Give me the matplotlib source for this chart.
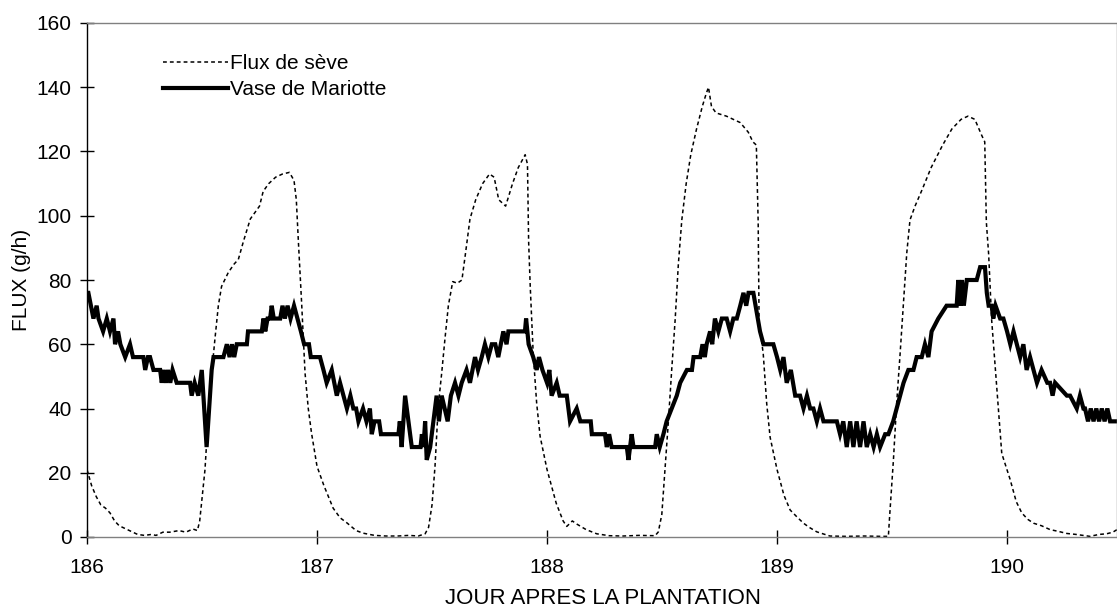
import matplotlib
matplotlib.use("Agg")
import matplotlib.pyplot as plt

# Flux de seve (thin dashed line): day, flux in g/h
sap_day = [186.000, 186.020, 186.040, 186.060, 186.080, 186.100, 186.120, 186.140, 186.170,
           186.200, 186.220, 186.250, 186.280, 186.300, 186.330, 186.360, 186.400, 186.430,
           186.460, 186.480, 186.490, 186.500, 186.513, 186.527, 186.542, 186.556, 186.571,
           186.585, 186.614, 186.640, 186.658, 186.680, 186.710, 186.730, 186.750, 186.766,
           186.790, 186.820, 186.850, 186.880, 186.900, 186.910, 186.919, 186.933, 186.948,
           186.962, 186.976, 187.000, 187.030, 187.070, 187.100, 187.130, 187.170, 187.200,
           187.250, 187.300, 187.350, 187.400, 187.440, 187.470, 187.485, 187.500, 187.513,
           187.527, 187.542, 187.556, 187.571, 187.590, 187.610, 187.630, 187.645, 187.665,
           187.690, 187.720, 187.750, 187.770, 187.790, 187.820, 187.850, 187.875, 187.890,
           187.905, 187.915, 187.920, 187.927, 187.940, 187.955, 187.970, 188.000, 188.040,
           188.070, 188.086, 188.110, 188.130, 188.170, 188.216, 188.270, 188.330, 188.400,
           188.470, 188.484, 188.499, 188.513, 188.528, 188.542, 188.557, 188.571, 188.586,
           188.605, 188.625, 188.650, 188.675, 188.692, 188.702, 188.715, 188.735, 188.780,
           188.840, 188.875, 188.895, 188.910, 188.918, 188.922, 188.940, 188.955, 188.970,
           189.000, 189.030, 189.057, 189.090, 189.115, 189.140, 189.173, 189.230, 189.300,
           189.380, 189.450, 189.484, 189.490, 189.506, 189.520, 189.535, 189.550, 189.564,
           189.578, 189.600, 189.630, 189.670, 189.720, 189.760, 189.800, 189.830, 189.860,
           189.890, 189.903, 189.910, 189.920, 189.933, 189.955, 189.977, 190.013, 190.040,
           190.064, 190.090, 190.115, 190.150, 190.187, 190.220, 190.260, 190.300, 190.360,
           190.400, 190.433, 190.460, 190.478]
sap_flux = [21.0, 16.0, 12.6, 10.0, 9.0, 7.5, 5.0, 3.5, 2.5,
            1.5, 0.8, 0.5, 0.8, 0.5, 1.5, 1.5, 2.0, 1.5,
            2.5, 2.0, 5.0, 12.0, 21.0, 37.6, 51.0, 61.5, 72.0,
            78.0, 82.3, 85.0, 86.4, 92.0, 99.0, 101.0, 103.0, 107.6,
            110.0, 112.0, 113.0, 113.5, 111.0, 105.0, 92.0, 73.0, 51.0,
            40.0, 32.4, 22.0, 16.0, 9.0, 6.0, 4.4, 2.0, 1.2,
            0.5, 0.3, 0.3, 0.5, 0.3, 1.0, 3.0, 10.0, 22.0,
            40.7, 51.0, 61.5, 72.0, 79.5, 79.0, 80.0, 88.0, 99.0,
            105.0, 110.0, 113.0, 112.0, 105.0, 103.0, 110.0, 115.0, 117.0,
            119.0, 116.0, 92.0, 78.0, 57.0, 41.6, 31.3, 21.0, 10.5,
            5.0, 3.3, 5.0, 4.0, 2.3, 1.0, 0.4, 0.3, 0.5,
            0.4, 1.6, 7.0, 21.0, 36.4, 52.0, 67.6, 85.0, 98.7,
            110.0, 119.0, 127.0, 134.0, 138.0, 140.0, 134.0, 132.0, 131.0,
            129.0, 126.0, 123.0, 122.0, 98.0, 67.0, 57.0, 41.6, 31.0,
            21.0, 13.0, 8.4, 6.0, 4.3, 3.0, 1.6, 0.3, 0.2,
            0.3, 0.2, 0.2, 7.0, 24.0, 41.6, 57.0, 73.0, 88.4,
            98.7, 103.0, 108.0, 115.0, 122.0, 127.0, 130.0, 131.0, 130.0,
            125.0, 123.0, 98.0, 88.0, 67.6, 47.0, 26.0, 18.0, 11.0,
            7.5, 5.5, 4.3, 3.5, 2.3, 1.8, 1.1, 0.8, 0.2,
            0.8, 1.0, 1.5, 2.3]

# Vase de Mariotte (thick solid line): day, flux in g/h
mariotte_day = [186.000, 186.006, 186.028, 186.042, 186.050, 186.070, 186.086, 186.100, 186.115,
                186.122, 186.135, 186.145, 186.166, 186.187, 186.200, 186.245, 186.253, 186.265,
                186.274, 186.289, 186.318, 186.325, 186.333, 186.343, 186.352, 186.362, 186.372,
                186.390, 186.448, 186.455, 186.468, 186.484, 186.499, 186.520, 186.542, 186.550,
                186.593, 186.608, 186.620, 186.630, 186.640, 186.651, 186.695, 186.700, 186.760,
                186.767, 186.775, 186.785, 186.796, 186.803, 186.812, 186.840, 186.850, 186.860,
                186.872, 186.885, 186.900, 186.915, 186.930, 186.944, 186.965, 186.973, 187.013,
                187.028, 187.042, 187.064, 187.075, 187.086, 187.100, 187.115, 187.130, 187.145,
                187.158, 187.170, 187.180, 187.200, 187.215, 187.230, 187.238, 187.250, 187.270,
                187.278, 187.296, 187.354, 187.360, 187.368, 187.383, 187.412, 187.450, 187.456,
                187.463, 187.470, 187.477, 187.492, 187.506, 187.520, 187.530, 187.542, 187.568,
                187.582, 187.600, 187.615, 187.629, 187.650, 187.665, 187.687, 187.700, 187.716,
                187.730, 187.745, 187.760, 187.775, 187.788, 187.810, 187.824, 187.832, 187.904,
                187.909, 187.920, 187.940, 187.955, 187.965, 187.980, 188.000, 188.010, 188.020,
                188.042, 188.055, 188.086, 188.100, 188.129, 188.145, 188.160, 188.190, 188.195,
                188.252, 188.260, 188.270, 188.281, 188.347, 188.354, 188.368, 188.376, 188.470,
                188.477, 188.490, 188.506, 188.520, 188.542, 188.564, 188.579, 188.608, 188.630,
                188.637, 188.666, 188.676, 188.686, 188.694, 188.709, 188.718, 188.730, 188.745,
                188.760, 188.781, 188.796, 188.810, 188.825, 188.840, 188.854, 188.866, 188.876,
                188.897, 188.926, 188.941, 188.984, 189.000, 189.014, 189.028, 189.042, 189.060,
                189.079, 189.100, 189.115, 189.130, 189.144, 189.158, 189.173, 189.187, 189.202,
                189.260, 189.274, 189.288, 189.303, 189.318, 189.332, 189.346, 189.361, 189.376,
                189.390, 189.405, 189.420, 189.434, 189.448, 189.470, 189.484, 189.505, 189.520,
                189.535, 189.550, 189.571, 189.593, 189.607, 189.629, 189.643, 189.658, 189.672,
                189.701, 189.737, 189.781, 189.788, 189.796, 189.804, 189.812, 189.825, 189.868,
                189.883, 189.904, 189.912, 189.920, 189.933, 189.940, 189.950, 189.970, 189.984,
                190.000, 190.014, 190.028, 190.057, 190.071, 190.085, 190.100, 190.115, 190.130,
                190.150, 190.175, 190.187, 190.198, 190.209, 190.260, 190.274, 190.303, 190.317,
                190.332, 190.339, 190.352, 190.364, 190.376, 190.388, 190.400, 190.412, 190.424,
                190.436, 190.448, 190.478]
mariotte_flux = [76, 76, 68, 72, 68, 64, 68, 64, 68,
                 60, 64, 60, 56, 60, 56, 56, 52, 56,
                 56, 52, 52, 48, 52, 48, 52, 48, 52,
                 48, 48, 44, 48, 44, 52, 28, 52, 56,
                 56, 60, 56, 60, 56, 60, 60, 64, 64,
                 68, 64, 68, 68, 72, 68, 68, 72, 68,
                 72, 68, 72, 68, 64, 60, 60, 56, 56,
                 52, 48, 52, 48, 44, 48, 44, 40, 44,
                 40, 40, 36, 40, 36, 40, 32, 36, 36,
                 32, 32, 32, 36, 28, 44, 28, 28, 32,
                 28, 36, 24, 28, 36, 44, 36, 44, 36,
                 44, 48, 44, 48, 52, 48, 56, 52, 56,
                 60, 56, 60, 60, 56, 64, 60, 64, 64,
                 68, 60, 56, 52, 56, 52, 48, 52, 44,
                 48, 44, 44, 36, 40, 36, 36, 36, 32,
                 32, 28, 32, 28, 28, 24, 32, 28, 28,
                 32, 28, 32, 36, 40, 44, 48, 52, 52,
                 56, 56, 60, 56, 60, 64, 60, 68, 64,
                 68, 68, 64, 68, 68, 72, 76, 72, 76,
                 76, 64, 60, 60, 56, 52, 56, 48, 52,
                 44, 44, 40, 44, 40, 40, 36, 40, 36,
                 36, 32, 36, 28, 36, 28, 36, 28, 36,
                 28, 32, 28, 32, 28, 32, 32, 36, 40,
                 44, 48, 52, 52, 56, 56, 60, 56, 64,
                 68, 72, 72, 80, 72, 80, 72, 80, 80,
                 84, 84, 76, 72, 72, 68, 72, 68, 68,
                 64, 60, 64, 56, 60, 52, 56, 52, 48,
                 52, 48, 48, 44, 48, 44, 44, 40, 44,
                 40, 40, 36, 40, 36, 40, 36, 40, 36,
                 40, 36, 36]

x_ticks = [186, 187, 188, 189, 190]
y_ticks = [0, 20, 40, 60, 80, 100, 120, 140, 160]

plt.rcParams['font.family'] = ['Liberation Sans', 'DejaVu Sans']
plt.rcParams['font.size'] = 15

fig = plt.figure(figsize=(11.17, 6.16), dpi=100)
ax = fig.add_axes([87 / 1117, 1 - 537 / 616, 1 - 87 / 1117, (537 - 23) / 616])

ax.plot(sap_day, sap_flux, color='black', linewidth=1.1,
        linestyle=(0, (2.5, 2.0)), label='Flux de sève')
ax.plot(mariotte_day, mariotte_flux, color='black', linewidth=3.0,
        solid_joinstyle='miter', label='Vase de Mariotte')

ax.set_xlim(186, 190.478)
ax.set_ylim(0, 160)
ax.set_xticks(x_ticks)
ax.set_yticks(y_ticks)
ax.tick_params(axis='both', direction='inout', length=10, width=1, color='black')
ax.tick_params(axis='x', pad=10)
ax.tick_params(axis='y', pad=6)

for side in ['top', 'right', 'bottom']:
    ax.spines[side].set_color('#808080')
    ax.spines[side].set_linewidth(1)
ax.spines['left'].set_color('black')
ax.spines['left'].set_linewidth(1)

leg = ax.legend(loc='upper left', bbox_to_anchor=((163 - 87) / 1030, (537 - 54) / 514),
                frameon=False, handlelength=3.1, handletextpad=0.1,
                borderpad=0, borderaxespad=0, labelspacing=0.35, fontsize=15)

fig.text(22 / 1117, 1 - 280 / 616, 'FLUX (g/h)', rotation=90, ha='center', va='center', fontsize=15)
fig.text(603 / 1117, 1 - 598 / 616, 'JOUR APRES LA PLANTATION', ha='center', va='center', fontsize=16)

fig.savefig('out.png', dpi=100)
